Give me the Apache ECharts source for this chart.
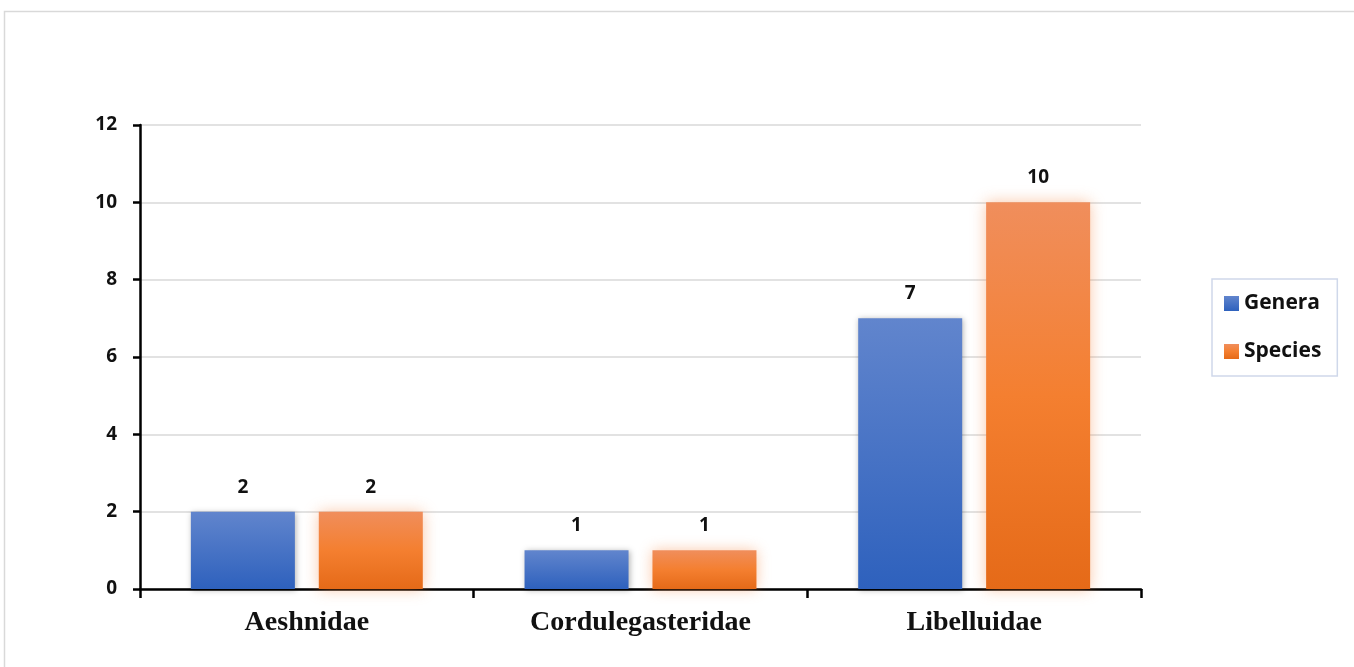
<!DOCTYPE html>
<html><head><meta charset="utf-8">
<script src="https://cdn.jsdelivr.net/npm/echarts@6/dist/echarts.min.js"></script>
<style>html,body{margin:0;padding:0;background:#fff}#c{width:1354px;height:667px}</style>
</head><body><div id="c"></div>
<script>
const categories = ['Aeshnidae', 'Cordulegasteridae', 'Libelluidae'];
const genera = [2, 1, 7];
const species = [2, 1, 10];
const yTicks = {min: 0, max: 12, interval: 2};

const chart = echarts.init(document.getElementById('c'));
const blueGrad = new echarts.graphic.LinearGradient(0, 0, 0, 1, [{offset: 0, color: '#6185cd'}, {offset: 1, color: '#2e61bd'}]);
const orangeGrad = new echarts.graphic.LinearGradient(0, 0, 0, 1, [{offset: 0, color: '#f08e5c'}, {offset: 0.5, color: '#f47f30'}, {offset: 1, color: '#e56a18'}]);
const lblStyle = {show: true, position: 'top', distance: 15, fontFamily: 'Open Sans', fontWeight: 'bold', fontSize: 19, color: '#111'};
chart.setOption({
  animation: false,
  graphic: [{type: 'rect', shape: {x: 4.5, y: 11.5, width: 1360, height: 670}, style: {fill: 'none', stroke: '#d9d9d9', lineWidth: 1.5}, z: -1}],
  grid: {left: 140, top: 125, width: 1001, height: 464, containLabel: false},
  legend: {
    orient: 'vertical', left: 1212, top: 279,
    data: ['Genera', 'Species'],
    backgroundColor: '#fff', borderColor: '#cfd8ea', borderWidth: 1.5,
    padding: [14, 16, 14, 12], itemGap: 27, itemWidth: 15, itemHeight: 15,
    icon: 'rect',
    textStyle: {fontFamily: 'Open Sans', fontWeight: 'bold', fontSize: 21, color: '#111'}
  },
  xAxis: {
    type: 'category', data: categories,
    axisLine: {lineStyle: {color: '#000', width: 2.5}},
    axisTick: {show: true, length: 9, lineStyle: {color: '#000', width: 2.5}},
    axisLabel: {fontFamily: 'Liberation Serif', fontWeight: 'bold', fontSize: 28, color: '#111', margin: 20}
  },
  yAxis: {
    type: 'value', min: yTicks.min, max: yTicks.max, interval: yTicks.interval,
    axisLine: {show: true, lineStyle: {color: '#000', width: 2.5}},
    axisTick: {show: true, length: 7, lineStyle: {color: '#000', width: 2.5}},
    splitLine: {lineStyle: {color: '#d9d9d9', width: 1.5}},
    axisLabel: {fontFamily: 'Open Sans', fontWeight: 'bold', fontSize: 19, color: '#111', margin: 23}
  },
  series: [
    {name: 'Genera', type: 'bar', data: genera, barWidth: 104, barGap: '23%',
     itemStyle: {color: blueGrad, shadowColor: 'rgba(0,0,0,0.3)', shadowBlur: 6, shadowOffsetX: 1, shadowOffsetY: 1},
     label: lblStyle},
    {name: 'Species', type: 'bar', data: species, barWidth: 104,
     itemStyle: {color: orangeGrad, shadowColor: 'rgba(244,130,60,0.45)', shadowBlur: 14},
     label: lblStyle}
  ]
});
</script></body></html>
